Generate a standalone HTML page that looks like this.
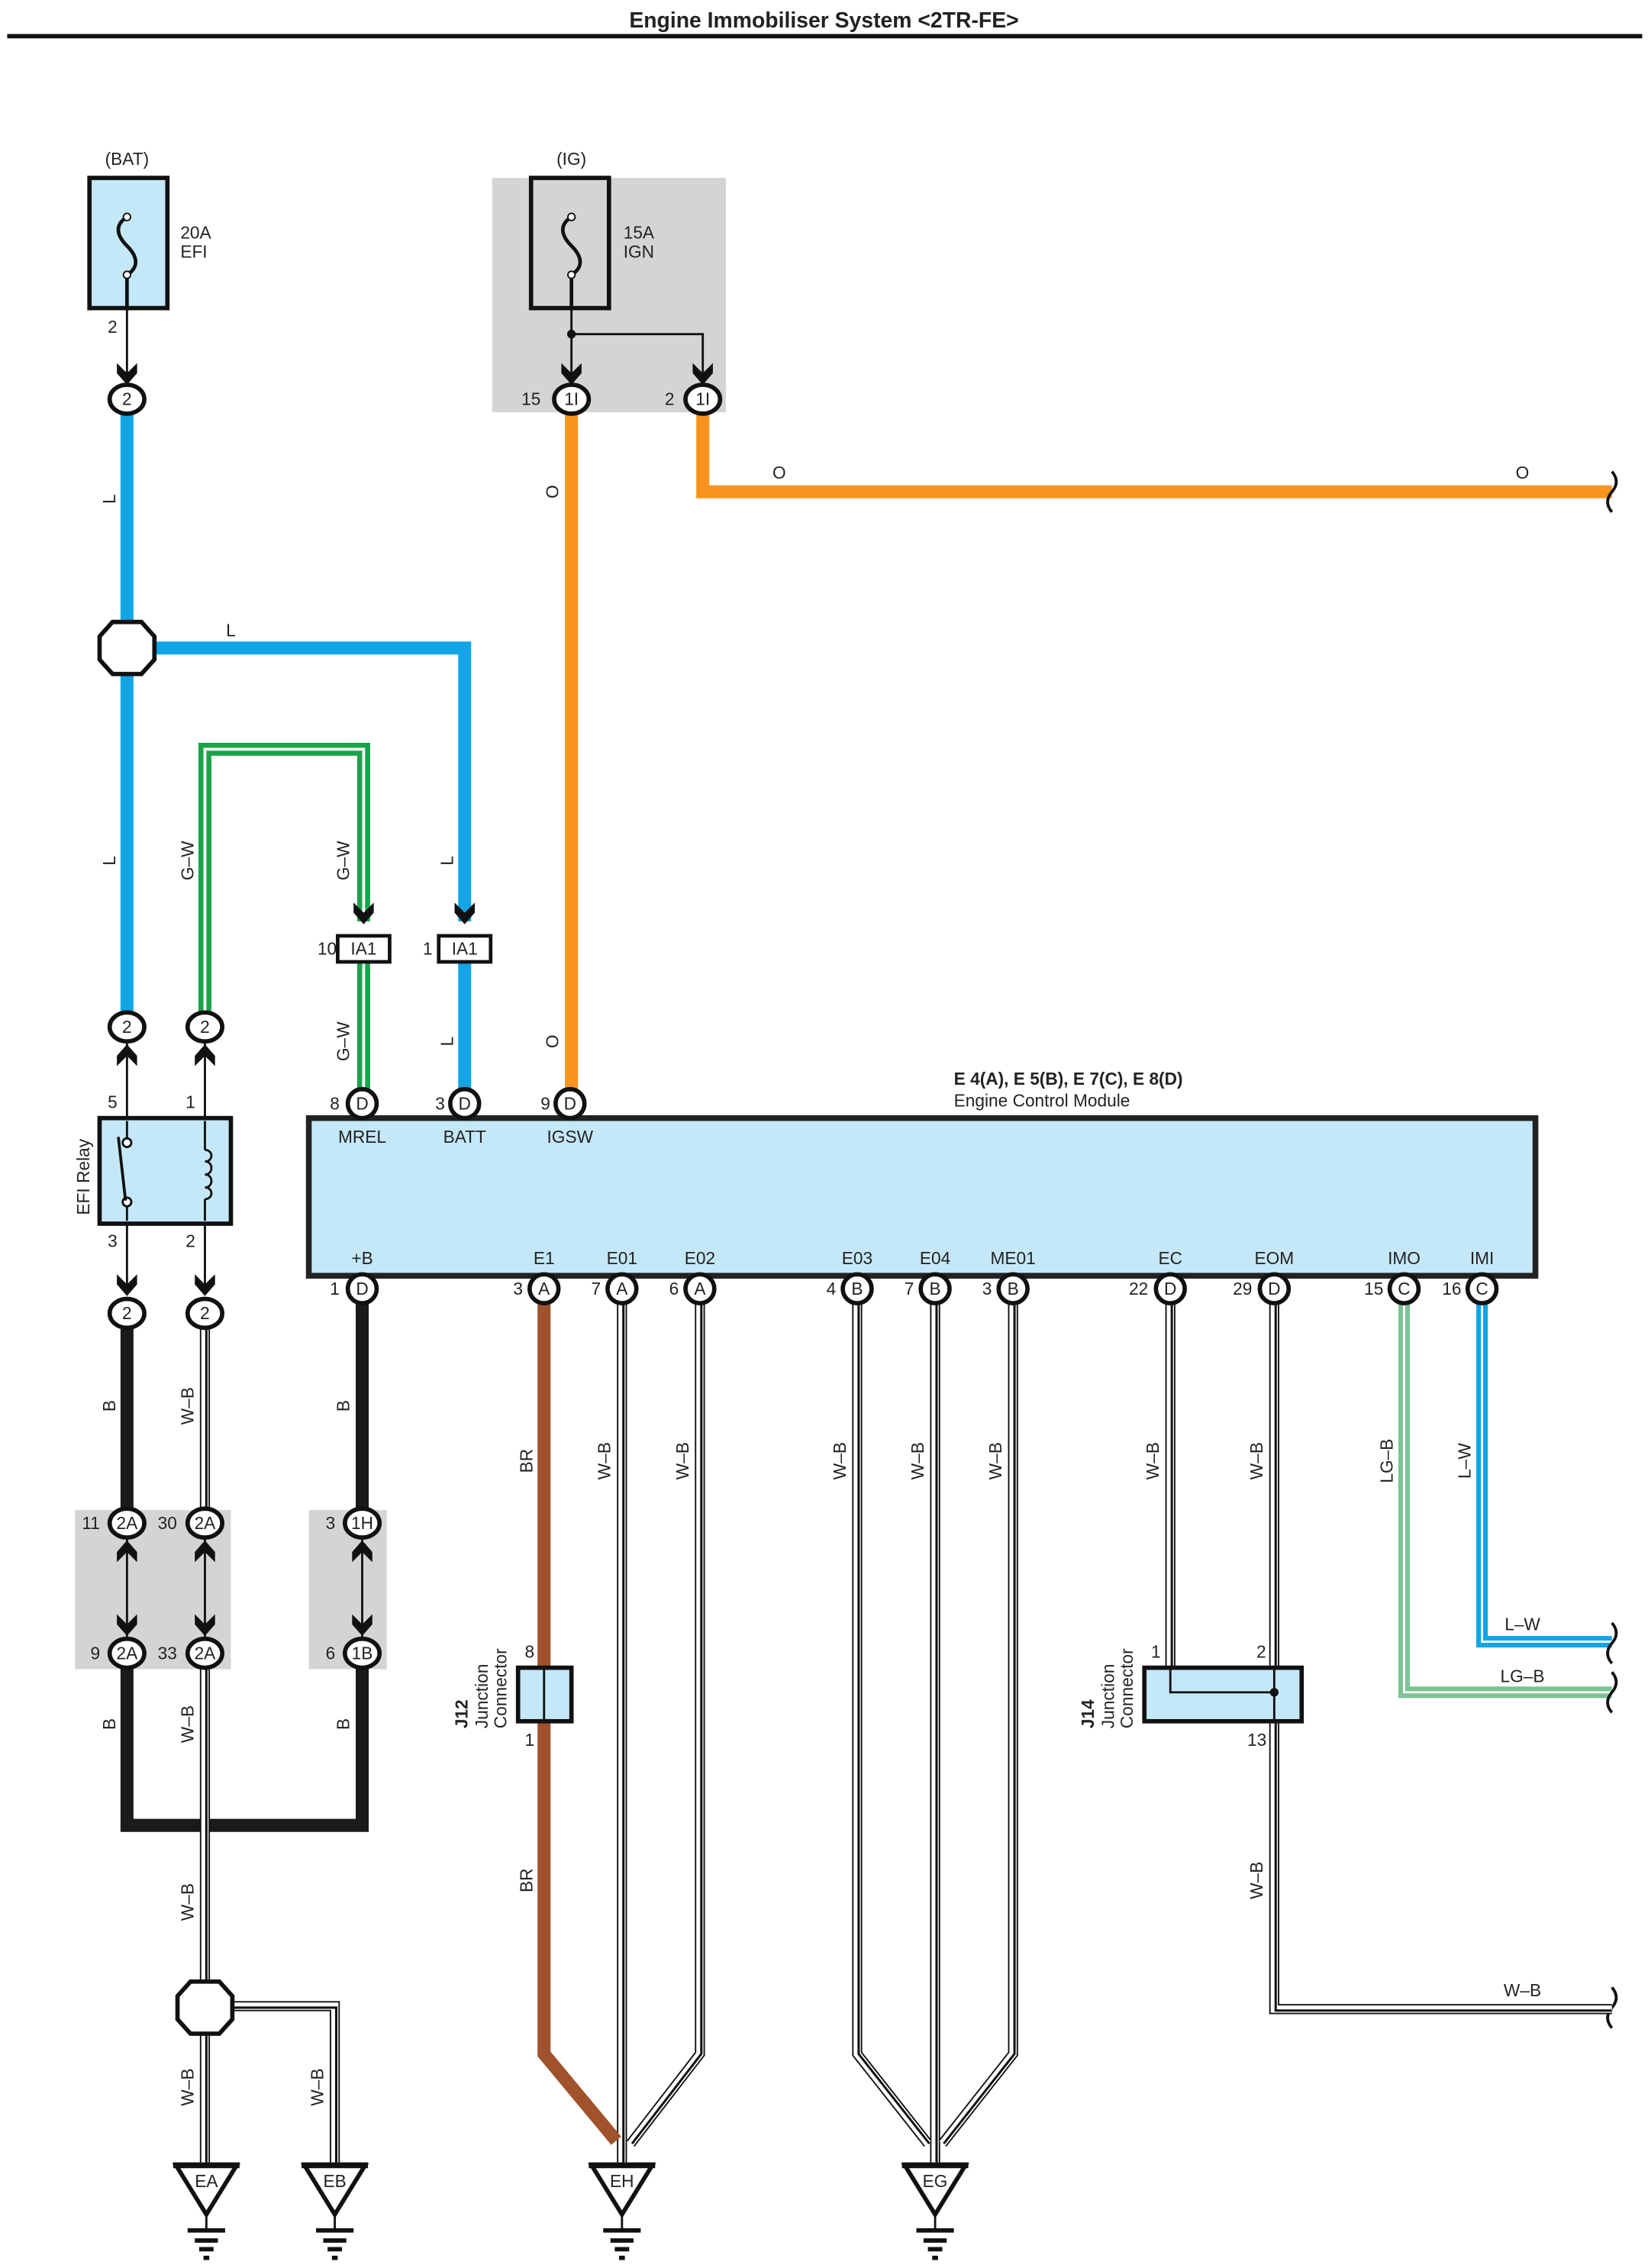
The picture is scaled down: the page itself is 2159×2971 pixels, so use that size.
<!DOCTYPE html>
<html><head><meta charset="utf-8"><style>
html,body{margin:0;padding:0;background:#fff}
svg{display:block}
text{font-family:"Liberation Sans",sans-serif;font-size:12px;fill:#222}
.c{text-anchor:middle}
</style></head><body>
<svg width="2159" height="2971" viewBox="0 0 1142 1568" preserveAspectRatio="none" xmlns="http://www.w3.org/2000/svg">
<defs>
<g id="arrD"><path d="M-7,-12 L0,-5 L7,-12 L7,-5 L0,3 L-7,-5Z" fill="#111"/></g>
<g id="arrU"><path d="M-7,12 L0,5 L7,12 L7,5 L0,-3 L-7,5Z" fill="#111"/></g>
<g id="gnd"><path d="M-21,0 L21,0 L0,34Z" fill="#fff" stroke="#111" stroke-width="3"/><line x1="-23" y1="0" x2="23" y2="0" stroke="#111" stroke-width="4"/><line x1="0" y1="34" x2="0" y2="44" stroke="#111" stroke-width="1.5"/><line x1="-13" y1="45" x2="13" y2="45" stroke="#111" stroke-width="3"/><line x1="-8" y1="52" x2="8" y2="52" stroke="#111" stroke-width="3"/><line x1="-5" y1="58" x2="5" y2="58" stroke="#111" stroke-width="3"/><line x1="-2" y1="64" x2="2" y2="64" stroke="#111" stroke-width="3"/></g>
</defs>
<text x="571" y="19" class="c" style="font-weight:bold;font-size:15px">Engine Immobiliser System &lt;2TR-FE&gt;</text>
<line x1="5" y1="25" x2="1138" y2="25" stroke="#111" stroke-width="3"/>

<rect x="341" y="123" width="162" height="162" fill="#d4d4d6"/>
<rect x="52" y="1044" width="108" height="110" fill="#d4d4d6"/>
<rect x="214" y="1044" width="54" height="110" fill="#d4d4d6"/>

<text x="88" y="114" class="c">(BAT)</text>
<rect x="62" y="123" width="54" height="90" fill="#c5e8f8" stroke="#111" stroke-width="3"/>
<path d="M88,190 V213 M88,150 c-8,5 -8,12 0,20 c8,8 8,15 0,20" fill="none" stroke="#111" stroke-width="2.5"/>
<circle cx="88" cy="150" r="2.5" fill="#fff" stroke="#111"/><circle cx="88" cy="190" r="2.5" fill="#fff" stroke="#111"/>
<text x="125" y="165">20A</text><text x="125" y="178">EFI</text>
<text x="78" y="230" class="c">2</text>
<line x1="88" y1="213" x2="88" y2="262" stroke="#111" stroke-width="1.5"/>
<use href="#arrD" x="88" y="263"/>

<text x="396" y="114" class="c">(IG)</text>
<rect x="368" y="123" width="54" height="90" fill="#d4d4d6" stroke="#111" stroke-width="3"/>
<path d="M396,190 V213 M396,150 c-8,5 -8,12 0,20 c8,8 8,15 0,20" fill="none" stroke="#111" stroke-width="2.5"/>
<circle cx="396" cy="150" r="2.5" fill="#fff" stroke="#111"/><circle cx="396" cy="190" r="2.5" fill="#fff" stroke="#111"/>
<text x="432" y="165">15A</text><text x="432" y="178">IGN</text>
<path d="M396,213 V262 M396,231 H487 V262" fill="none" stroke="#111" stroke-width="1.5"/>
<circle cx="396" cy="231" r="3" fill="#111"/>
<use href="#arrD" x="396" y="263"/><use href="#arrD" x="487" y="263"/>

<path d="M88,285 V700" stroke="#12a5e6" stroke-width="9" fill="none"/>
<path d="M100,448 H322 V637" stroke="#12a5e6" stroke-width="9" fill="none"/>
<path d="M322,665 V755" stroke="#12a5e6" stroke-width="9" fill="none"/>
<path d="M1027,900 V1135 H1117" stroke="#12a5e6" stroke-width="8" fill="none"/>
<path d="M1027,900 V1135 H1117" stroke="#fff" stroke-width="1.5" fill="none"/>
<path d="M78,430 L98,430 L107,440 L107,456 L98,466 L78,466 L69,456 L69,440Z" fill="#fff" stroke="#111" stroke-width="3"/>
<path d="M142,700 V518 H252 V637" stroke="#1aa44a" stroke-width="9" fill="none"/>
<path d="M142,700 V518 H252 V637" stroke="#fff" stroke-width="2" fill="none"/>
<path d="M252,665 V755" stroke="#1aa44a" stroke-width="9" fill="none"/>
<path d="M252,665 V755" stroke="#fff" stroke-width="2" fill="none"/>
<path d="M396,285 V755" stroke="#f7931e" stroke-width="9" fill="none"/>
<path d="M487,285 V340 H1117" stroke="#f7931e" stroke-width="9" fill="none"/>
<path d="M1117,326 q6,7 0,14 q-6,7 0,14" fill="none" stroke="#111" stroke-width="2"/>
<path d="M973,900 V1170 H1117" stroke="#7cc394" stroke-width="8" fill="none"/>
<path d="M973,900 V1170 H1117" stroke="#fff" stroke-width="1.5" fill="none"/>
<path d="M1117,1122 q6,7 0,14 q-6,7 0,14 M1117,1156 q6,7 0,14 q-6,7 0,14 M1117,1374 q6,7 0,14 q-6,7 0,14" fill="none" stroke="#111" stroke-width="2"/>

<use href="#arrD" x="252" y="636"/><use href="#arrD" x="322" y="636"/>
<rect x="234" y="647" width="36" height="18" fill="#fff" stroke="#111" stroke-width="2.5"/><text x="252" y="660" class="c">IA1</text>
<rect x="304" y="647" width="36" height="18" fill="#fff" stroke="#111" stroke-width="2.5"/><text x="322" y="660" class="c">IA1</text>
<text x="220" y="660">10</text><text x="293" y="660">1</text>

<path d="M88,720 V800 M142,720 V800 M88,830 V895 M142,820 V895" stroke="#111" stroke-width="1.5" fill="none"/>
<use href="#arrU" x="88" y="725"/><use href="#arrU" x="142" y="725"/>
<use href="#arrD" x="88" y="893"/><use href="#arrD" x="142" y="893"/>
<rect x="69" y="773" width="91" height="73" fill="#c5e8f8" stroke="#111" stroke-width="3"/>
<path d="M88,775 V787 M88,834 V844 M142,775 V795 M142,829 V844" stroke="#111" stroke-width="1.5"/>
<circle cx="88" cy="790" r="3" fill="#fff" stroke="#111" stroke-width="1.5"/><circle cx="88" cy="831" r="3" fill="#fff" stroke="#111" stroke-width="1.5"/>
<line x1="82" y1="786" x2="87" y2="830" stroke="#111" stroke-width="2"/>
<path d="M142,795 c6,0 6,8 0,8 c6,0 6,9 0,9 c6,0 6,9 0,9 c6,0 6,8 0,8" fill="none" stroke="#111" stroke-width="1.5"/>
<text x="78" y="766" class="c">5</text><text x="132" y="766" class="c">1</text>
<text x="78" y="862" class="c">3</text><text x="132" y="862" class="c">2</text>
<text transform="translate(62,840) rotate(-90)">EFI Relay</text>

<rect x="214" y="773" width="850" height="109" fill="#c5e8f8" stroke="#222" stroke-width="4"/>
<text x="661" y="750" style="font-weight:bold">E 4(A), E 5(B), E 7(C), E 8(D)</text>
<text x="661" y="765">Engine Control Module</text>
<text x="251" y="790" class="c">MREL</text><text x="322" y="790" class="c">BATT</text><text x="395" y="790" class="c">IGSW</text>
<text x="251" y="874" class="c">+B</text><text x="377" y="874" class="c">E1</text><text x="431" y="874" class="c">E01</text><text x="485" y="874" class="c">E02</text>
<text x="594" y="874" class="c">E03</text><text x="648" y="874" class="c">E04</text><text x="702" y="874" class="c">ME01</text>
<text x="811" y="874" class="c">EC</text><text x="883" y="874" class="c">EOM</text><text x="973" y="874" class="c">IMO</text><text x="1027" y="874" class="c">IMI</text>

<path d="M88,918 V1043 M88,1153 V1262 H251 V1153 M251,900 V1043" stroke="#1a1a1a" stroke-width="9" fill="none"/>

<g fill="none" stroke-linejoin="miter">
<path d="M142,918 V1043 M142,1153 V1370 M142,1405 V1495 M161,1387 H232 V1495 M431,900 V1495 M485,900 V1420 L437,1482 M594,900 V1420 L643,1482 M648,900 V1495 M702,900 V1420 L653,1482 M811,900 V1153 M883,900 V1153 M883,1190 V1389 H1117" stroke="#111" stroke-width="7"/>
<path d="M142,918 V1043 M142,1153 V1370 M142,1405 V1495 M161,1387 H232 V1495 M431,900 V1495 M485,900 V1420 L437,1482 M594,900 V1420 L643,1482 M648,900 V1495 M702,900 V1420 L653,1482 M811,900 V1153 M883,900 V1153 M883,1190 V1389 H1117" stroke="#fff" stroke-width="5"/>
<path d="M143,918 V1043 M143,1153 V1370 M143,1405 V1495 M161,1388 H233 V1495 M432,900 V1495 M486,900 V1420 L438,1482 M595,900 V1420 L644,1482 M649,900 V1495 M703,900 V1420 L654,1482 M812,900 V1153 M884,900 V1153 M884,1190 V1390 H1117" stroke="#111" stroke-width="1.6"/>
</g>
<path d="M132,1370 L152,1370 L161,1380 L161,1396 L152,1406 L132,1406 L123,1396 L123,1380Z" fill="#fff" stroke="#111" stroke-width="3"/>
<path d="M377,900 V1153 M377,1190 V1420 L427,1480" stroke="#a0522d" stroke-width="9" fill="none"/>

<rect x="359" y="1153" width="37" height="37" fill="#c5e8f8" stroke="#111" stroke-width="3"/>
<line x1="377" y1="1153" x2="377" y2="1190" stroke="#111" stroke-width="1.5"/>
<text x="367" y="1146" class="c">8</text><text x="367" y="1207" class="c">1</text>
<text transform="translate(324,1195) rotate(-90)" style="font-weight:bold">J12</text>
<text transform="translate(338,1195) rotate(-90)">Junction</text>
<text transform="translate(351,1195) rotate(-90)">Connector</text>
<rect x="793" y="1153" width="109" height="37" fill="#c5e8f8" stroke="#111" stroke-width="3"/>
<path d="M811,1153 V1170 H883 M883,1153 V1190" stroke="#111" stroke-width="1.5" fill="none"/>
<circle cx="883" cy="1170" r="3" fill="#111"/>
<text x="801" y="1146" class="c">1</text><text x="874" y="1146" class="c">2</text><text x="871" y="1207" class="c">13</text>
<text transform="translate(758,1195) rotate(-90)" style="font-weight:bold">J14</text>
<text transform="translate(772,1195) rotate(-90)">Junction</text>
<text transform="translate(785,1195) rotate(-90)">Connector</text>

<g>
<use href="#arrU" x="88" y="1068"/><use href="#arrU" x="142" y="1068"/><use href="#arrU" x="251" y="1068"/>
<use href="#arrD" x="88" y="1128"/><use href="#arrD" x="142" y="1128"/><use href="#arrD" x="251" y="1128"/>
<path d="M88,1063 V1133 M142,1063 V1133 M251,1063 V1133" stroke="#111" stroke-width="1.5"/>
</g>

<g stroke="#111" stroke-width="3" fill="#fff">
<ellipse cx="88" cy="276" rx="12" ry="10"/><ellipse cx="396" cy="276" rx="12" ry="10"/><ellipse cx="487" cy="276" rx="12" ry="10"/>
<ellipse cx="88" cy="710" rx="12" ry="10"/><ellipse cx="142" cy="710" rx="12" ry="10"/>
<ellipse cx="88" cy="908" rx="12" ry="10"/><ellipse cx="142" cy="908" rx="12" ry="10"/>
<ellipse cx="88" cy="1053" rx="12" ry="10"/><ellipse cx="142" cy="1053" rx="12" ry="10"/><ellipse cx="251" cy="1053" rx="12" ry="10"/>
<ellipse cx="88" cy="1143" rx="12" ry="10"/><ellipse cx="142" cy="1143" rx="12" ry="10"/><ellipse cx="251" cy="1143" rx="12" ry="10"/>
<ellipse cx="251" cy="763" rx="10" ry="10"/><ellipse cx="322" cy="763" rx="10" ry="10"/><ellipse cx="395" cy="763" rx="10" ry="10"/>
<ellipse cx="251" cy="891" rx="10" ry="10"/><ellipse cx="377" cy="891" rx="10" ry="10"/><ellipse cx="431" cy="891" rx="10" ry="10"/><ellipse cx="485" cy="891" rx="10" ry="10"/>
<ellipse cx="594" cy="891" rx="10" ry="10"/><ellipse cx="648" cy="891" rx="10" ry="10"/><ellipse cx="702" cy="891" rx="10" ry="10"/>
<ellipse cx="811" cy="891" rx="10" ry="10"/><ellipse cx="883" cy="891" rx="10" ry="10"/><ellipse cx="973" cy="891" rx="10" ry="10"/><ellipse cx="1027" cy="891" rx="10" ry="10"/>
</g>
<g>
<text x="88" y="280" class="c">2</text><text x="396" y="280" class="c">1I</text><text x="487" y="280" class="c">1I</text>
<text x="88" y="714" class="c">2</text><text x="142" y="714" class="c">2</text>
<text x="88" y="912" class="c">2</text><text x="142" y="912" class="c">2</text>
<text x="88" y="1057" class="c">2A</text><text x="142" y="1057" class="c">2A</text><text x="251" y="1057" class="c">1H</text>
<text x="88" y="1147" class="c">2A</text><text x="142" y="1147" class="c">2A</text><text x="251" y="1147" class="c">1B</text>
<text x="251" y="767" class="c">D</text><text x="322" y="767" class="c">D</text><text x="395" y="767" class="c">D</text>
<text x="251" y="895" class="c">D</text><text x="377" y="895" class="c">A</text><text x="431" y="895" class="c">A</text><text x="485" y="895" class="c">A</text>
<text x="594" y="895" class="c">B</text><text x="648" y="895" class="c">B</text><text x="702" y="895" class="c">B</text>
<text x="811" y="895" class="c">D</text><text x="883" y="895" class="c">D</text><text x="973" y="895" class="c">C</text><text x="1027" y="895" class="c">C</text>
</g>
<text x="368" y="280" class="c">15</text><text x="464" y="280" class="c">2</text>
<text x="232" y="767" class="c">8</text><text x="305" y="767" class="c">3</text><text x="378" y="767" class="c">9</text>
<text x="232" y="895" class="c">1</text><text x="359" y="895" class="c">3</text><text x="413" y="895" class="c">7</text><text x="467" y="895" class="c">6</text>
<text x="576" y="895" class="c">4</text><text x="630" y="895" class="c">7</text><text x="684" y="895" class="c">3</text>
<text x="789" y="895" class="c">22</text><text x="861" y="895" class="c">29</text><text x="952" y="895" class="c">15</text><text x="1006" y="895" class="c">16</text>
<text x="63" y="1057" class="c">11</text><text x="116" y="1057" class="c">30</text><text x="229" y="1057" class="c">3</text>
<text x="66" y="1147" class="c">9</text><text x="116" y="1147" class="c">33</text><text x="229" y="1147" class="c">6</text>

<g>
<text transform="translate(80,345) rotate(-90)" class="c">L</text>
<text x="160" y="440" class="c">L</text>
<text transform="translate(80,595) rotate(-90)" class="c">L</text>
<text transform="translate(134,595) rotate(-90)" class="c">G–W</text>
<text transform="translate(242,595) rotate(-90)" class="c">G–W</text>
<text transform="translate(314,595) rotate(-90)" class="c">L</text>
<text transform="translate(242,720) rotate(-90)" class="c">G–W</text>
<text transform="translate(314,720) rotate(-90)" class="c">L</text>
<text transform="translate(387,720) rotate(-90)" class="c">O</text>
<text transform="translate(387,340) rotate(-90)" class="c">O</text>
<text x="540" y="331" class="c">O</text><text x="1055" y="331" class="c">O</text>
<text transform="translate(80,972) rotate(-90)" class="c">B</text>
<text transform="translate(134,972) rotate(-90)" class="c">W–B</text>
<text transform="translate(242,972) rotate(-90)" class="c">B</text>
<text transform="translate(369,1010) rotate(-90)" class="c">BR</text>
<text transform="translate(423,1010) rotate(-90)" class="c">W–B</text>
<text transform="translate(477,1010) rotate(-90)" class="c">W–B</text>
<text transform="translate(586,1010) rotate(-90)" class="c">W–B</text>
<text transform="translate(640,1010) rotate(-90)" class="c">W–B</text>
<text transform="translate(694,1010) rotate(-90)" class="c">W–B</text>
<text transform="translate(803,1010) rotate(-90)" class="c">W–B</text>
<text transform="translate(875,1010) rotate(-90)" class="c">W–B</text>
<text transform="translate(965,1010) rotate(-90)" class="c">LG–B</text>
<text transform="translate(1019,1010) rotate(-90)" class="c">L–W</text>
<text x="1055" y="1127" class="c">L–W</text><text x="1055" y="1163" class="c">LG–B</text>
<text transform="translate(80,1192) rotate(-90)" class="c">B</text>
<text transform="translate(134,1192) rotate(-90)" class="c">W–B</text>
<text transform="translate(242,1192) rotate(-90)" class="c">B</text>
<text transform="translate(134,1315) rotate(-90)" class="c">W–B</text>
<text transform="translate(369,1300) rotate(-90)" class="c">BR</text>
<text transform="translate(875,1300) rotate(-90)" class="c">W–B</text>
<text x="1055" y="1380" class="c">W–B</text>
<text transform="translate(134,1443) rotate(-90)" class="c">W–B</text>
<text transform="translate(224,1443) rotate(-90)" class="c">W–B</text>
</g>

<use href="#gnd" x="143" y="1497"/><use href="#gnd" x="232" y="1497"/><use href="#gnd" x="431" y="1497"/><use href="#gnd" x="648" y="1497"/>
<text x="143" y="1512" class="c">EA</text><text x="232" y="1512" class="c">EB</text><text x="431" y="1512" class="c">EH</text><text x="648" y="1512" class="c">EG</text>
</svg>
</body></html>
